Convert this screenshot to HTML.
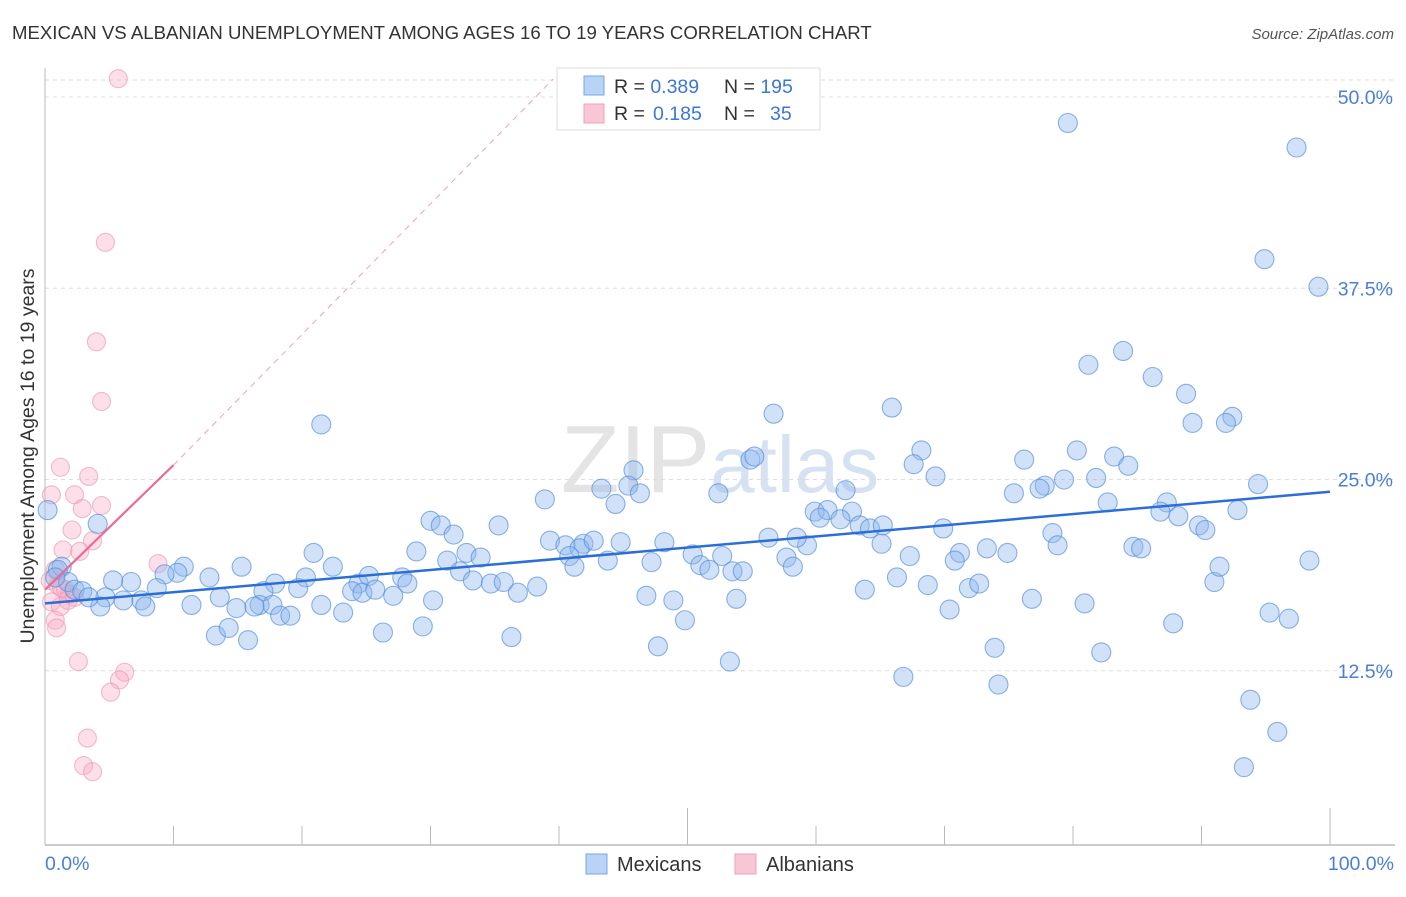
<!DOCTYPE html>
<html><head><meta charset="utf-8"><style>
html,body{margin:0;padding:0;background:#fff;}
body{width:1406px;height:892px;overflow:hidden;font-family:"Liberation Sans",sans-serif;}
svg text{font-family:"Liberation Sans",sans-serif;}
</style></head><body>
<svg id="chart" width="1406" height="892" viewBox="0 0 1406 892" xmlns="http://www.w3.org/2000/svg">
<text x="12" y="39" font-size="18.6" fill="#333">MEXICAN VS ALBANIAN UNEMPLOYMENT AMONG AGES 16 TO 19 YEARS CORRELATION CHART</text>
<text x="1394" y="39" font-size="15" fill="#555" text-anchor="end" font-style="italic">Source: ZipAtlas.com</text>
<text x="720" y="492" font-size="96" text-anchor="middle" fill="#e4e4e4" font-family="Liberation Serif, serif">ZIP<tspan fill="#d6e2f2" font-family="Liberation Sans, sans-serif" font-size="80">atlas</tspan></text>
<g id="grid"></g>
<g id="axes"></g>
<g id="pink"></g>
<g id="blue"></g>
<g id="trends"></g>
<text transform="translate(34,456) rotate(-90)" font-size="19.5" fill="#333" text-anchor="middle">Unemployment Among Ages 16 to 19 years</text>
<text x="45" y="870" font-size="19.5" fill="#4a7fd4">0.0%</text>
<text x="1394" y="870" font-size="19.5" fill="#4a7fd4" text-anchor="end">100.0%</text>
<g>
<rect x="557" y="68" width="263" height="62" fill="#fff" stroke="#ddd"/>
<rect x="584" y="76" width="20" height="19" fill="#b8d3f5" stroke="#7aa7e2"/>
<rect x="584" y="104" width="20" height="19" fill="#f9c6d6" stroke="#eea0ba"/>
<text x="614" y="93" font-size="19.5" fill="#333">R = <tspan fill="#3a78d4">0.389</tspan><tspan x="724">N = </tspan><tspan fill="#3a78d4">195</tspan></text>
<text x="614" y="120" font-size="19.5" fill="#333">R = <tspan fill="#3a78d4" x="653">0.185</tspan><tspan x="724">N = </tspan><tspan fill="#3a78d4" x="770">35</tspan></text>
</g>
<g>
<rect x="586" y="854" width="21" height="20" fill="#b8d3f5" stroke="#7aa7e2"/>
<text x="617" y="871" font-size="20" fill="#333">Mexicans</text>
<rect x="735" y="854" width="21" height="20" fill="#f9c6d6" stroke="#eea0ba"/>
<text x="766" y="871" font-size="20" fill="#333">Albanians</text>
</g>
</svg>
<script>
const blueX=[79.6,97.4,94.9,99.1,81.2,83.9,86.2,88.8,65.9,56.7,21.5,89.3,92.4,91.9,68.2,76.2,80.3,83.2,84.3,67.6,54.9,55.2,45.8,69.3,79.3,77.8,77.4,81.8,43.3,45.4,46.3,52.4,62.3,75.4,94.4,38.9,87.3,82.7,92.8,86.8,88.2,89.8,90.3,59.9,60.9,60.3,62.8,61.9,63.4,64.2,65.2,69.9,30.0,30.8,31.8,35.3,44.4,78.4,78.8,84.7,85.3,56.3,59.3,58.5,39.3,40.5,41.9,41.6,42.7,44.8,48.2,65.1,71.2,73.3,74.9,67.3,70.8,50.4,52.7,51.0,51.7,53.5,54.3,57.7,58.2,47.2,43.8,40.8,41.2,28.9,31.3,32.8,33.9,32.3,33.3,34.7,35.7,36.8,38.3,20.9,22.4,20.3,24.4,25.2,27.8,28.2,23.9,24.7,25.7,27.1,30.2,19.7,17.9,17.0,16.7,17.7,18.3,19.1,21.5,23.2,15.3,12.8,10.8,10.3,9.3,8.7,6.7,5.3,4.7,4.3,6.1,7.5,7.8,11.4,13.6,14.9,16.3,13.3,14.3,15.8,26.3,29.4,36.3,47.7,49.8,53.3,63.8,66.3,68.7,70.4,71.9,72.7,76.8,80.9,82.2,73.9,74.2,66.8,91.0,91.4,95.3,96.8,87.8,98.4,93.8,95.9,93.3,53.8,48.9,46.8,4.1,0.2,1.3,1.0,1.8,2.3,2.9,0.8,3.4];
const blueY=[48.3,46.7,39.4,37.6,32.5,33.4,31.7,30.6,29.7,29.3,28.6,28.7,29.1,28.7,26.9,26.3,26.9,26.5,25.9,26.0,26.3,26.5,25.6,25.2,25.0,24.6,24.4,25.1,24.4,24.6,24.1,24.1,24.3,24.1,24.7,23.7,23.5,23.5,23.0,22.9,22.6,22.0,21.7,22.9,23.0,22.5,22.9,22.4,22.0,21.8,22.0,21.8,22.3,22.0,21.4,22.0,23.4,21.5,20.7,20.6,20.5,21.2,20.7,21.2,21.0,20.7,20.8,20.5,21.0,20.9,20.9,20.8,20.2,20.5,20.2,20.0,19.7,20.1,20.0,19.4,19.1,19.0,19.0,19.9,19.3,19.6,19.7,20.0,19.3,20.3,19.7,20.2,19.9,19.0,18.4,18.2,18.3,17.6,18.0,20.2,19.3,18.6,18.2,18.7,18.6,18.2,17.7,17.6,17.8,17.4,17.1,17.9,18.2,17.7,16.8,16.8,16.1,16.1,16.8,16.3,19.3,18.6,19.3,18.9,18.8,17.9,18.3,18.4,17.3,16.7,17.1,17.1,16.7,16.8,17.3,16.6,16.7,14.8,15.3,14.5,15.0,15.4,14.7,14.1,15.8,13.1,17.8,18.6,18.1,16.5,17.9,18.2,17.2,16.9,13.7,14.0,11.6,12.1,18.3,19.3,16.3,15.9,15.6,19.7,10.6,8.5,6.2,17.2,17.1,17.4,22.1,23.0,19.3,19.1,18.3,17.8,17.7,18.6,17.3];
const pinkX=[5.7,4.7,4.0,4.4,1.2,3.4,0.5,2.3,4.4,2.9,2.1,3.7,1.4,2.7,8.8,0.8,0.4,1.0,1.6,1.9,2.3,0.5,1.2,0.8,0.9,2.6,6.2,5.8,5.1,3.3,3.0,3.7,1.8,1.3];
const pinkY=[51.2,40.5,34.0,30.1,25.8,25.2,24.0,24.0,23.3,23.1,21.7,21.0,20.4,20.3,19.5,19.1,18.4,18.1,17.8,17.5,17.3,17.0,16.7,15.8,15.3,13.1,12.4,11.9,11.1,8.1,6.3,5.9,17.1,17.9];
const yTicks=[12.5,25.0,37.5,50.0];
const yTickLabels=["12.5%","25.0%","37.5%","50.0%"];
const xTicks=[0,10,20,30,40,50,60,70,80,90,100];
const blueTrend=[16.9,24.2];
const pinkTrend=[17.8,0.814];

const NS="http://www.w3.org/2000/svg";
const X0=45,X1=1330,Y0=862,PXY=15.3;
function sx(v){return X0+(X1-X0)*v/100;}
function sy(v){return Y0-v*PXY;}
function mk(tag,attrs,parent){const e=document.createElementNS(NS,tag);for(const k in attrs)e.setAttribute(k,attrs[k]);parent.appendChild(e);return e;}
const grid=document.getElementById('grid'),axes=document.getElementById('axes');
let tl=mk('line',{x1:X0,x2:1395,y1:80,y2:80,stroke:'#ddd','stroke-dasharray':'4,4'},grid);


yTicks.forEach((t,i)=>{
  const l=mk('line',{x1:X0,x2:1395,y1:sy(t),y2:sy(t),stroke:'#ddd','stroke-dasharray':'4,4'},grid);
  
  
  const tx=mk('text',{x:1393,y:sy(t)+7,'font-size':19.5,fill:'#4a7fd4','text-anchor':'end'},grid);
  tx.textContent=yTickLabels[i];
  
  
});
let ya=mk('line',{x1:X0,x2:X0,y1:68,y2:845,stroke:'#bbb'},axes);


let xa=mk('line',{x1:X0,x2:1395,y1:845,y2:845,stroke:'#bbb','stroke-width':1.5},axes);


xTicks.forEach(t=>{
  const top=(t===50||t===100)?808:826;
  const l=mk('line',{x1:sx(t),x2:sx(t),y1:top,y2:845,stroke:'#bbb'},axes);
  
  
});
const pg=document.getElementById('pink');
pinkX.forEach((x,i)=>{
  const c=mk('circle',{cx:sx(x),cy:sy(pinkY[i]),r:9,fill:'rgba(246,170,196,0.38)',stroke:'rgba(236,150,180,0.65)','stroke-width':1.1},pg);
  
  
});
const bg=document.getElementById('blue');
blueX.forEach((x,i)=>{
  const c=mk('circle',{cx:sx(x),cy:sy(blueY[i]),r:9.5,fill:'rgba(140,182,238,0.4)',stroke:'rgba(80,138,218,0.65)','stroke-width':1.1},bg);
  
  
});
const tg=document.getElementById('trends');
let bt=mk('line',{x1:sx(0),y1:sy(blueTrend[0]),x2:sx(100),y2:sy(blueTrend[1]),stroke:'#2b6fd6','stroke-width':2.5},tg);


const pEnd=10, pDash=(50-pinkTrend[0])/pinkTrend[1];
let pt=mk('line',{x1:sx(0),y1:sy(pinkTrend[0]),x2:sx(pEnd),y2:sy(pinkTrend[0]+pinkTrend[1]*pEnd),stroke:'#ec6a93','stroke-width':2.2},tg);


let pd=mk('line',{x1:sx(pEnd),y1:sy(pinkTrend[0]+pinkTrend[1]*pEnd),x2:sx(pDash),y2:sy(50)-18,stroke:'#f0a0ba','stroke-width':1,'stroke-dasharray':'6,5'},tg);


</script>
</body></html>
